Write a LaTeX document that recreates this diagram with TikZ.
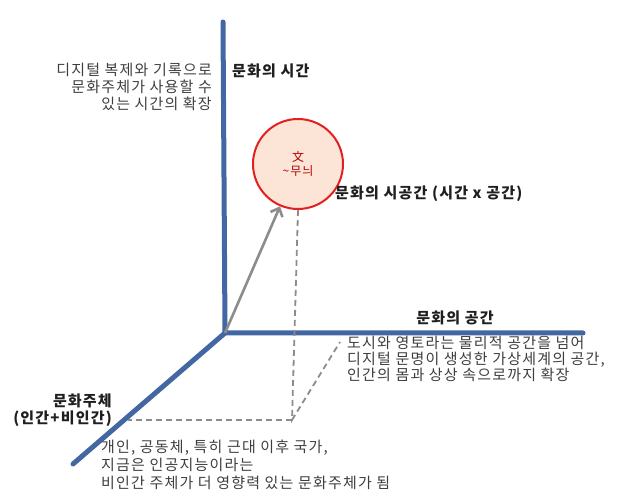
\documentclass[tikz,border=0pt]{standalone}
\usepackage{fontspec}
\setmainfont[LetterSpace=8]{Noto Sans CJK KR}
\usetikzlibrary{arrows.meta, positioning}
\definecolor{axisblue}{RGB}{66,103,162}
\definecolor{ringred}{RGB}{226,32,32}
\definecolor{peach}{RGB}{252,229,215}
\definecolor{notegray}{RGB}{62,62,62}
\definecolor{guidegray}{RGB}{140,140,140}
\definecolor{glyphred}{RGB}{178,0,0}

\begin{document}
\begin{tikzpicture}[x=1pt, y=-1pt,
  axis/.style={line width=5pt, axisblue, line cap=round},
  guide/.style={line width=1.8pt, guidegray, dash pattern=on 6pt off 4pt},
  title/.style={font=\bfseries\fontsize{15}{17}\selectfont, text=black!88, inner sep=0pt},
  note/.style={font=\fontsize{15}{17}\selectfont, text=notegray, inner sep=0pt}]
  \useasboundingbox (0,0) rectangle (624,502);

  % axes
  \coordinate (o) at (225,333);
  \coordinate (top) at (223,22);
  \coordinate (right) at (583,333);
  \coordinate (front) at (73,464);
  \draw[axis] (top) -- (o) -- (right);
  \draw[axis] (o) -- (front);

  \node[circle, draw=ringred, line width=2pt, fill=peach, minimum size=90pt, inner sep=0pt, align=center, text=glyphred, font=\fontsize{12}{14}\selectfont] (wen) at (298,164) {文\\{\char`\~}무늬};

  % projection lines
  \coordinate (foot) at (292,420);
  \coordinate (floor) at (128,420);
  \coordinate (wall) at (340,342);
  \draw[guide] (wen.south) -- (foot) -- (wall);
  \draw[guide] (foot) -- (floor);
  \draw[line width=2.6pt, guidegray, -{Straight Barb[length=7pt, width=13pt, line width=2.6pt]}] (o) -- (wen.247);

  \node[note, align=right, anchor=north east] (timenote) at (212,63) {디지털 복제와 기록으로\\문화주체가 사용할 수\\있는 시간의 확장};
  \node[title, anchor=north west] (timetitle) at (232,64) {문화의 시간};
  \node[title, anchor=west] (sttitle) at (335,194) {문화의 시공간 (시간 x 공간)};
  \node[title] (spacetitle) at (455,318) {문화의 공간};
  \node[note, align=left, anchor=north west, font=\fontsize{15}{15.8}\selectfont] (spacenote) at (347,336) {도시와 영토라는 물리적 공간을 넘어\\디지털 문명이 생성한 가상세계의 공간,\\인간의 몸과 상상 속으로까지 확장};
  \node[title, align=right, anchor=north east] (subjtitle) at (112,394) {문화주체\\(인간+비인간)};
  \node[note, align=left, anchor=north west, font=\fontsize{15}{18}\selectfont] (subjnote) at (101,440) {개인, 공동체, 특히 근대 이후 국가,\\지금은 인공지능이라는\\비인간 주체가 더 영향력 있는 문화주체가 됨};
\end{tikzpicture}
\end{document}
